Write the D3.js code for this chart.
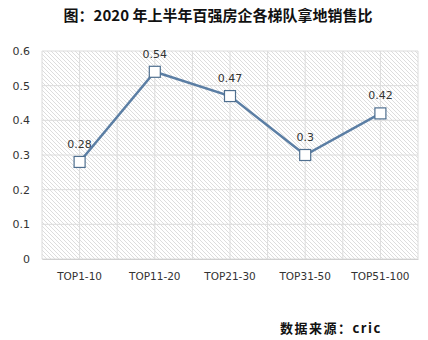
<!DOCTYPE html>
<html><head><meta charset="utf-8">
<script src="https://cdn.jsdelivr.net/npm/d3@7"></script>
<style>body{margin:0;background:#fff}svg{display:block}</style>
</head><body>
<script>
const categories = ["TOP1-10", "TOP11-20", "TOP21-30", "TOP31-50", "TOP51-100"];
const values = [0.28, 0.54, 0.47, 0.3, 0.42];
const yTicks = [0, 0.1, 0.2, 0.3, 0.4, 0.5, 0.6];
const title = "图：2020 年上半年百强房企各梯队拿地销售比";
const source = "数据来源：cric";

const W = 428, H = 340;
const m = {left: 42, right: 10, top: 51, bottom: 81};
const svg = d3.select("body").append("svg").attr("width", W).attr("height", H);

const x = d3.scaleBand().domain(categories).range([m.left, W - m.right]);
const y = d3.scaleLinear().domain([0, 0.6]).range([H - m.bottom, m.top]);

// hatched plot background
const defs = svg.append("defs");
const pat = defs.append("pattern").attr("id", "hatch").attr("patternUnits", "userSpaceOnUse")
  .attr("width", 4).attr("height", 4);
pat.append("rect").attr("width", 4).attr("height", 4).attr("fill", "#fff");
pat.append("path").attr("d", "M-1,-1 L5,5 M-1,3 L1,5 M3,-1 L5,1")
  .attr("stroke", "#d4d4d4").attr("stroke-width", 0.8);

svg.append("rect").attr("x", m.left).attr("y", m.top)
  .attr("width", W - m.left - m.right).attr("height", H - m.top - m.bottom)
  .attr("fill", "url(#hatch)");

// grid
const g = svg.append("g");
g.selectAll(".hg").data(yTicks).join("line")
  .attr("x1", m.left).attr("x2", W - m.right)
  .attr("y1", d => y(d)).attr("y2", d => y(d))
  .attr("stroke", "#dcdcdc").attr("stroke-width", 1);
const vx = [];
categories.forEach(c => { vx.push(x(c)); vx.push(x(c) + x.bandwidth() / 2); });
vx.push(W - m.right);
g.selectAll(".vg").data(vx).join("line")
  .attr("x1", d => d).attr("x2", d => d)
  .attr("y1", m.top).attr("y2", H - m.bottom)
  .attr("stroke", "#dcdcdc").attr("stroke-width", 1);

// axes
const yAxis = d3.axisLeft(y).tickValues(yTicks).tickSize(0).tickPadding(12)
  .tickFormat(d => d === 0 ? "0" : d3.format(".1f")(d));
svg.append("g").attr("transform", `translate(${m.left},0)`).call(yAxis)
  .call(s => s.select(".domain").remove())
  .selectAll("text").attr("font-size", 11).attr("fill", "#333")
  .attr("font-family", "'DejaVu Sans', sans-serif");

const xAxis = d3.axisBottom(x).tickSize(0).tickPadding(14);
svg.append("g").attr("transform", `translate(0,${H - m.bottom})`).call(xAxis)
  .call(s => s.select(".domain").attr("stroke", "#d0d0d0"))
  .selectAll("text").attr("font-size", 10.5).attr("fill", "#333")
  .attr("font-family", "'DejaVu Sans', sans-serif");

// line + markers
const cx = c => x(c) + x.bandwidth() / 2;
const line = d3.line().x((d, i) => cx(categories[i])).y(d => y(d));
svg.append("path").datum(values).attr("d", line)
  .attr("fill", "none").attr("stroke", "#5b7ea4").attr("stroke-width", 2.5);
svg.selectAll(".mk").data(values).join("rect")
  .attr("x", (d, i) => cx(categories[i]) - 5.5).attr("y", d => y(d) - 5.5)
  .attr("width", 11).attr("height", 11)
  .attr("fill", "#fff").attr("stroke", "#4f6f8f").attr("stroke-width", 1.2);

// value labels
svg.selectAll(".lb").data(values).join("text")
  .attr("x", (d, i) => cx(categories[i])).attr("y", d => y(d) - 14)
  .attr("text-anchor", "middle").attr("font-size", 11).attr("fill", "#333")
  .attr("font-family", "'DejaVu Sans', sans-serif")
  .text(d => String(d));

// title and source
svg.append("text").attr("x", 218).attr("y", 21).attr("text-anchor", "middle")
  .attr("font-size", 15).attr("font-weight", "bold").attr("fill", "#111")
  .attr("font-family", "'Noto Sans CJK SC', sans-serif").text(title);
svg.append("text").attr("x", 280).attr("y", 333)
  .attr("font-size", 13).attr("font-weight", "bold").attr("fill", "#111")
  .attr("font-family", "'Noto Sans CJK SC', sans-serif")
  .attr("letter-spacing", 1.5).text(source);
</script>
</body></html>
